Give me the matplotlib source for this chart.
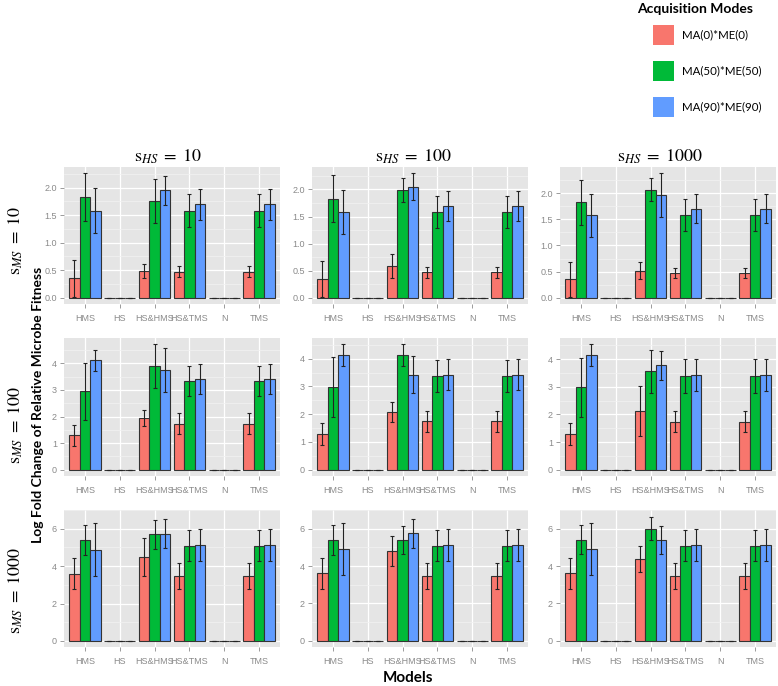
import matplotlib
matplotlib.use("Agg")
import matplotlib.pyplot as plt
import numpy as np

plt.rcParams['mathtext.fontset'] = 'stix'

categories = ["HMS", "HS", "HS&HMS", "HS&TMS", "N", "TMS"]
modes = ["MA(0)*ME(0)", "MA(50)*ME(50)", "MA(90)*ME(90)"]
mode_colors = ["#F8766D", "#00BA38", "#619CFF"]
col_values = ["10", "100", "1000"]
row_values = ["10", "100", "1000"]

# s_MS = 10 row  (rows: modes; columns: categories)
ms10_hs10_mean = [[0.35, 0, 0.49, 0.47, 0, 0.47],
                  [1.83, 0, 1.76, 1.58, 0, 1.58],
                  [1.58, 0, 1.95, 1.70, 0, 1.70]]
ms10_hs10_err = [[0.33, 0, 0.13, 0.10, 0, 0.10],
                 [0.43, 0, 0.40, 0.30, 0, 0.30],
                 [0.41, 0, 0.26, 0.28, 0, 0.28]]
ms10_hs100_mean = [[0.35, 0, 0.59, 0.47, 0, 0.47],
                   [1.83, 0, 1.99, 1.58, 0, 1.58],
                   [1.58, 0, 2.05, 1.70, 0, 1.70]]
ms10_hs100_err = [[0.33, 0, 0.22, 0.10, 0, 0.10],
                  [0.43, 0, 0.22, 0.30, 0, 0.30],
                  [0.41, 0, 0.25, 0.28, 0, 0.28]]
ms10_hs1000_mean = [[0.35, 0, 0.52, 0.47, 0, 0.47],
                    [1.83, 0, 2.06, 1.58, 0, 1.58],
                    [1.58, 0, 1.96, 1.70, 0, 1.70]]
ms10_hs1000_err = [[0.33, 0, 0.16, 0.10, 0, 0.10],
                   [0.43, 0, 0.22, 0.30, 0, 0.30],
                   [0.41, 0, 0.42, 0.28, 0, 0.28]]

# s_MS = 100 row
ms100_hs10_mean = [[1.29, 0, 1.94, 1.73, 0, 1.73],
                   [2.95, 0, 3.90, 3.34, 0, 3.34],
                   [4.12, 0, 3.75, 3.40, 0, 3.40]]
ms100_hs10_err = [[0.40, 0, 0.31, 0.39, 0, 0.39],
                  [1.07, 0, 0.82, 0.58, 0, 0.58],
                  [0.40, 0, 0.82, 0.56, 0, 0.56]]
ms100_hs100_mean = [[1.30, 0, 2.07, 1.74, 0, 1.74],
                    [2.98, 0, 4.12, 3.38, 0, 3.38],
                    [4.12, 0, 3.42, 3.43, 0, 3.43]]
ms100_hs100_err = [[0.40, 0, 0.36, 0.39, 0, 0.39],
                   [1.08, 0, 0.40, 0.58, 0, 0.58],
                   [0.40, 0, 0.66, 0.56, 0, 0.56]]
ms100_hs1000_mean = [[1.30, 0, 2.13, 1.74, 0, 1.74],
                     [2.98, 0, 3.56, 3.39, 0, 3.39],
                     [4.14, 0, 3.78, 3.43, 0, 3.43]]
ms100_hs1000_err = [[0.40, 0, 0.91, 0.39, 0, 0.39],
                    [1.08, 0, 0.77, 0.60, 0, 0.60],
                    [0.40, 0, 0.52, 0.57, 0, 0.57]]

# s_MS = 1000 row
ms1000_hs10_mean = [[3.60, 0, 4.48, 3.45, 0, 3.45],
                    [5.42, 0, 5.70, 5.10, 0, 5.10],
                    [4.88, 0, 5.74, 5.14, 0, 5.14]]
ms1000_hs10_err = [[0.83, 0, 1.00, 0.70, 0, 0.70],
                   [0.80, 0, 0.76, 0.82, 0, 0.82],
                   [1.40, 0, 0.78, 0.85, 0, 0.85]]
ms1000_hs100_mean = [[3.61, 0, 4.81, 3.45, 0, 3.45],
                     [5.42, 0, 5.42, 5.10, 0, 5.10],
                     [4.90, 0, 5.75, 5.14, 0, 5.14]]
ms1000_hs100_err = [[0.83, 0, 0.80, 0.70, 0, 0.70],
                    [0.80, 0, 0.75, 0.82, 0, 0.82],
                    [1.40, 0, 0.78, 0.85, 0, 0.85]]
ms1000_hs1000_mean = [[3.61, 0, 4.37, 3.45, 0, 3.45],
                      [5.42, 0, 6.00, 5.10, 0, 5.10],
                      [4.90, 0, 5.40, 5.14, 0, 5.14]]
ms1000_hs1000_err = [[0.82, 0, 0.68, 0.70, 0, 0.70],
                     [0.78, 0, 0.63, 0.82, 0, 0.82],
                     [1.40, 0, 0.77, 0.85, 0, 0.85]]

panel_means = [[ms10_hs10_mean, ms10_hs100_mean, ms10_hs1000_mean],
               [ms100_hs10_mean, ms100_hs100_mean, ms100_hs1000_mean],
               [ms1000_hs10_mean, ms1000_hs100_mean, ms1000_hs1000_mean]]
panel_errs = [[ms10_hs10_err, ms10_hs100_err, ms10_hs1000_err],
              [ms100_hs10_err, ms100_hs100_err, ms100_hs1000_err],
              [ms1000_hs10_err, ms1000_hs100_err, ms1000_hs1000_err]]
row_ticks = [[0, 0.5, 1.0, 1.5, 2.0], [0, 1, 2, 3, 4], [0, 2, 4, 6]]
row_ticklabels = [["0.0", "0.5", "1.0", "1.5", "2.0"], ["0", "1", "2", "3", "4"], ["0", "2", "4", "6"]]

W, H = 778, 686
fig = plt.figure(figsize=(W / 100, H / 100), dpi=100)
fig.patch.set_facecolor("white")

col_lr = [(64, 280), (312, 528), (560, 776)]
row_tb = [(167, 304), (338, 476), (510, 647)]

tick_font = ["Liberation Sans Narrow", "Liberation Sans", "DejaVu Sans"]
tick_grey = "#8A8A8A"
for r in range(3):
    for c in range(3):
        l, rr = col_lr[c]
        t, b = row_tb[r]
        ax = fig.add_axes([l / W, 1 - b / H, (rr - l) / W, (b - t) / H])
        ax.set_facecolor("#E5E5E5")
        means = np.array(panel_means[r][c])
        errs = np.array(panel_errs[r][c])
        ymax = (means + errs).max()
        ax.set_ylim(-0.05 * ymax, 1.05 * ymax)
        ax.set_xlim(0.4, len(categories) + 0.6)
        ticks = row_ticks[r]
        ax.set_yticks(ticks)
        ax.set_yticklabels(row_ticklabels[r], family=tick_font)
        minor = [(ticks[i] + ticks[i + 1]) / 2 for i in range(len(ticks) - 1)]
        minor.append(ticks[-1] + (ticks[1] - ticks[0]) / 2)
        ax.set_yticks(minor, minor=True)
        ax.set_xticks(np.arange(1, len(categories) + 1))
        ax.set_xticklabels(categories, family=tick_font)
        ax.grid(True, which="major", color="white", linewidth=0.9)
        ax.grid(True, which="minor", axis="y", color="#F2F2F2", linewidth=0.5)
        ax.set_axisbelow(True)
        for s in ax.spines.values():
            s.set_visible(False)
        ax.tick_params(axis="both", which="major", colors=tick_grey, labelsize=6.5,
                       length=3, width=0.6, pad=2)
        ax.tick_params(axis="y", which="minor", length=0)
        ax.tick_params(axis="x", pad=4)
        x = np.arange(1, len(categories) + 1)
        for j in range(3):
            xs = x + (j - 1) * 0.3
            ax.bar(xs, means[j], width=0.3, color=mode_colors[j],
                   edgecolor="#333333", linewidth=0.8, zorder=2)
            ax.errorbar(xs, means[j], yerr=errs[j], fmt="none", ecolor="#222222",
                        elinewidth=0.8, capsize=1.2, capthick=0.8, zorder=3)

# column strip labels
col_centers = [168, 413, 660]
for c in range(3):
    fig.text(col_centers[c] / W, 1 - 157 / H, r"$\mathrm{s}_{HS}\;=\;" + col_values[c] + "$",
             ha="center", va="center", fontsize=13)

# row labels
row_centers = [240, 425, 590]
for r in range(3):
    fig.text(16 / W, 1 - row_centers[r] / H, r"$\mathrm{s}_{MS}\;=\;" + row_values[r] + "$",
             ha="center", va="center", fontsize=13, rotation=90)

fig.text(38 / W, 1 - 405 / H, "Log Fold Change of Relative Microbe Fitness",
         ha="center", va="center", rotation=90, fontsize=10, fontweight="bold",
         family=["Lato", "DejaVu Sans"])
fig.text(408 / W, 1 - 678 / H, "Models", ha="center", va="center",
         fontsize=11, fontweight="bold", family=["Lato", "DejaVu Sans"])

# legend
fig.text(695 / W, 1 - 9 / H, "Acquisition Modes", ha="center", va="center",
         fontsize=10, fontweight="bold", family=["Lato", "DejaVu Sans"])
leg_y = [35, 71, 107]
for j in range(3):
    fig.patches.append(plt.Rectangle((653 / W, 1 - (leg_y[j] + 10) / H), 21 / W, 20 / H,
                                     transform=fig.transFigure, facecolor=mode_colors[j],
                                     edgecolor="none"))
    fig.text(682 / W, 1 - leg_y[j] / H, modes[j], ha="left", va="center",
             fontsize=8.3, family=["Lato", "DejaVu Sans"])

fig.savefig("out.png", dpi=100, facecolor="white")
